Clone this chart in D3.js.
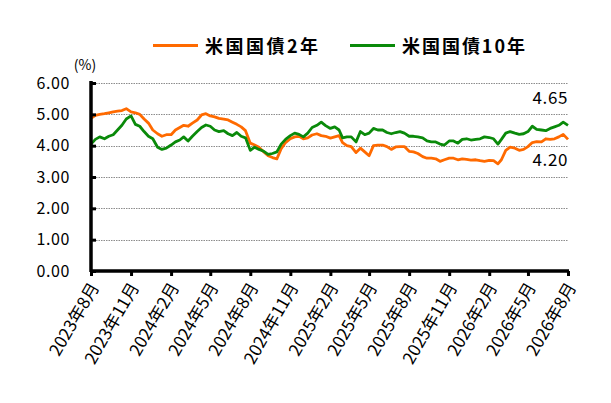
<!DOCTYPE html>
<html>
<head>
<meta charset="utf-8">
<script src="https://cdn.jsdelivr.net/npm/d3@7"></script>
<style>
  body { margin: 0; background: #fff; }
  text { font-family: "Noto Sans CJK JP", "Noto Sans", sans-serif; }
</style>
</head>
<body>
<div id="chart"></div>
<script>
// 10日ごとのサンプル (1日, 11日, 21日)
const dates = [
  "2023-08-01","2023-08-11","2023-08-21", "2023-09-01","2023-09-11","2023-09-21",
  "2023-10-01","2023-10-11","2023-10-21", "2023-11-01","2023-11-11","2023-11-21",
  "2023-12-01","2023-12-11","2023-12-21", "2024-01-01","2024-01-11","2024-01-21",
  "2024-02-01","2024-02-11","2024-02-21", "2024-03-01","2024-03-11","2024-03-21",
  "2024-04-01","2024-04-11","2024-04-21", "2024-05-01","2024-05-11","2024-05-21",
  "2024-06-01","2024-06-11","2024-06-21", "2024-07-01","2024-07-11","2024-07-21",
  "2024-08-01","2024-08-11","2024-08-21", "2024-09-01","2024-09-11","2024-09-21",
  "2024-10-01","2024-10-11","2024-10-21", "2024-11-01","2024-11-11","2024-11-21",
  "2024-12-01","2024-12-11","2024-12-21", "2025-01-01","2025-01-11","2025-01-21",
  "2025-02-01","2025-02-11","2025-02-21", "2025-03-01","2025-03-11","2025-03-21",
  "2025-04-01","2025-04-11","2025-04-21", "2025-05-01","2025-05-11","2025-05-21",
  "2025-06-01","2025-06-11","2025-06-21", "2025-07-01","2025-07-11","2025-07-21",
  "2025-08-01","2025-08-11","2025-08-21", "2025-09-01","2025-09-11","2025-09-21",
  "2025-10-01","2025-10-11","2025-10-21", "2025-11-01","2025-11-11","2025-11-21",
  "2025-12-01","2025-12-11","2025-12-21", "2026-01-01","2026-01-11","2026-01-21",
  "2026-02-01","2026-02-11","2026-02-21", "2026-03-01","2026-03-11","2026-03-21",
  "2026-04-01","2026-04-11","2026-04-21", "2026-05-01","2026-05-11","2026-05-21",
  "2026-06-01","2026-06-11","2026-06-21", "2026-07-01","2026-07-11","2026-07-21",
  "2026-08-01"
];

const us2y = [
  4.87, 4.97, 5.00,  5.02, 5.05, 5.08,  5.10, 5.12, 5.18,  5.08, 5.05, 5.00,
  4.85, 4.72, 4.50,  4.38, 4.30, 4.35,  4.35, 4.50, 4.58,  4.65, 4.62, 4.72,
  4.82, 4.98, 5.02,  4.95, 4.92, 4.87,  4.85, 4.82, 4.75,  4.68, 4.60, 4.48,
  4.08, 4.02, 3.95,  3.80, 3.68, 3.62,  3.58, 3.90, 4.10,  4.22, 4.28, 4.30,
  4.22, 4.25, 4.34,  4.38, 4.32, 4.30,  4.24, 4.28, 4.32,  4.10, 4.00, 3.97,
  3.78, 3.92, 3.80,  3.68, 4.00, 4.02,  4.02, 3.97, 3.88,  3.96, 3.97, 3.97,
  3.82, 3.80, 3.75,  3.65, 3.60, 3.60,  3.58, 3.50, 3.55,  3.60, 3.60, 3.55,
  3.58, 3.56, 3.54,  3.55, 3.52, 3.50,  3.53, 3.52, 3.42,  3.55, 3.85, 3.95,
  3.92, 3.85, 3.88,  3.97, 4.10, 4.13,  4.12, 4.22, 4.20,  4.22, 4.28, 4.36,
  4.20
];

const us10y = [
  4.05, 4.20, 4.28,  4.22, 4.30, 4.35,  4.50, 4.65, 4.85,  4.95, 4.68, 4.62,
  4.45, 4.30, 4.22,  3.95, 3.88, 3.92,  4.02, 4.12, 4.18,  4.28, 4.15, 4.30,
  4.45, 4.58, 4.66,  4.62, 4.50, 4.45,  4.48, 4.38, 4.32,  4.42, 4.30, 4.25,
  3.85, 3.95, 3.88,  3.82, 3.72, 3.75,  3.80, 4.05, 4.20,  4.32, 4.40, 4.36,
  4.28, 4.40, 4.58,  4.65, 4.75, 4.64,  4.55, 4.60, 4.50,  4.25, 4.28, 4.28,
  4.12, 4.45, 4.35,  4.40, 4.55, 4.50,  4.50, 4.42, 4.38,  4.42, 4.45, 4.40,
  4.30, 4.30, 4.28,  4.25, 4.15, 4.12,  4.12, 4.05, 4.02,  4.15, 4.15, 4.08,
  4.20, 4.22, 4.18,  4.20, 4.22, 4.28,  4.26, 4.22, 4.05,  4.20, 4.40, 4.45,
  4.40, 4.36, 4.38,  4.45, 4.62, 4.52,  4.50, 4.48, 4.55,  4.60, 4.65, 4.75,
  4.65
];

const tickDates = [
  "2023-08-01","2023-11-01","2024-02-01","2024-05-01","2024-08-01","2024-11-01",
  "2025-02-01","2025-05-01","2025-08-01","2025-11-01","2026-02-01","2026-05-01","2026-08-01"
];
const tickLabels = [
  "2023年8月","2023年11月","2024年2月","2024年5月","2024年8月","2024年11月",
  "2025年2月","2025年5月","2025年8月","2025年11月","2026年2月","2026年5月","2026年8月"
];
const yTicks = [0, 1, 2, 3, 4, 5, 6];
const seriesNames = ["米国国債2年", "米国国債10年"];
const lastLabels = ["4.20", "4.65"];

const width = 611, height = 403;
const margin = {top: 83, right: 43, bottom: 132, left: 91};
const plotW = width - margin.left - margin.right;
const plotH = height - margin.top - margin.bottom;

const parse = d3.timeParse("%Y-%m-%d");
const colors = ["#ff6a00", "#0a8a0a"];

const svg = d3.select("#chart")
  .append("svg")
  .attr("width", width)
  .attr("height", height);

const g = svg.append("g")
  .attr("transform", "translate(" + margin.left + "," + margin.top + ")");

const xScale = d3.scaleTime()
  .domain([parse(tickDates[0]), parse(tickDates[tickDates.length - 1])])
  .range([0, plotW]);

const yScale = d3.scaleLinear()
  .domain([0, 6])
  .range([plotH, 0]);

// グリッド
g.append("g")
  .selectAll("line")
  .data(yTicks.filter(d => d > 0))
  .join("line")
  .attr("x1", 0)
  .attr("x2", plotW)
  .attr("y1", d => Math.round(yScale(d)) + 0.5)
  .attr("y2", d => Math.round(yScale(d)) + 0.5)
  .attr("stroke", "#8c8c8c")
  .attr("stroke-width", 1)
  .attr("stroke-dasharray", "1.5,1");

// 線
const series = [us2y, us10y];
series.forEach(function(vals, i) {
  const pts = dates.map((d, j) => ({date: parse(d), value: vals[j]}));
  g.append("path")
    .datum(pts)
    .attr("fill", "none")
    .attr("stroke", colors[i])
    .attr("stroke-width", 2.8)
    .attr("stroke-linejoin", "round")
    .attr("d", d3.line()
      .x(d => xScale(d.date))
      .y(d => yScale(d.value)));
});

// Y軸
const yAxis = g.append("g")
  .call(d3.axisLeft(yScale)
    .tickValues(yTicks)
    .tickSize(-5)
    .tickPadding(21)
    .tickFormat(d3.format(".2f")));
yAxis.select(".domain")
  .attr("stroke-width", 3.5)
  .attr("d", "M0," + (plotH + 1) + "V-2");
yAxis.selectAll(".tick line").attr("stroke-width", 3);
yAxis.selectAll("text")
  .attr("font-size", 16)
  .attr("letter-spacing", 0.6)
  .attr("fill", "#000");

// X軸
const xAxis = g.append("g")
  .attr("transform", "translate(0," + plotH + ")")
  .call(d3.axisBottom(xScale)
    .tickValues(tickDates.map(parse))
    .tickSize(5)
    .tickFormat((d, i) => tickLabels[i]));
xAxis.select(".domain")
  .attr("stroke-width", 3.5)
  .attr("d", "M-1,0H" + (plotW + 1));
xAxis.selectAll(".tick line").attr("stroke-width", 3);
xAxis.selectAll("text")
  .attr("font-size", 17)
  .attr("fill", "#000")
  .attr("text-anchor", "end")
  .attr("y", 0)
  .attr("dy", "0.35em")
  .attr("transform", "translate(3,13) rotate(-60)");

// 単位
svg.append("text")
  .attr("x", 85)
  .attr("y", 70)
  .attr("text-anchor", "middle")
  .attr("font-size", 14)
  .text("(%)");

// 最新値
[4.20, 4.65].forEach(function(v, i) {
  g.append("text")
    .attr("x", plotW)
    .attr("y", i === 0 ? yScale(3) - 11 : yScale(5) - 10)
    .attr("text-anchor", "end")
    .attr("font-size", 17)
    .attr("letter-spacing", 0.6)
    .text(lastLabels[i]);
});

// 凡例
const legendX = [153, 350];
const legendW = [113, 123];
seriesNames.forEach(function(name, i) {
  const lg = svg.append("g").attr("transform", "translate(" + legendX[i] + ",45.5)");
  lg.append("line")
    .attr("x1", 0).attr("x2", 45)
    .attr("stroke", colors[i])
    .attr("stroke-width", 3);
  lg.append("text")
    .attr("x", 52)
    .attr("y", 7)
    .attr("font-size", 18)
    .attr("font-weight", "bold")
    .attr("textLength", legendW[i])
    .attr("lengthAdjust", "spacing")
    .text(name);
});
</script>
</body>
</html>
